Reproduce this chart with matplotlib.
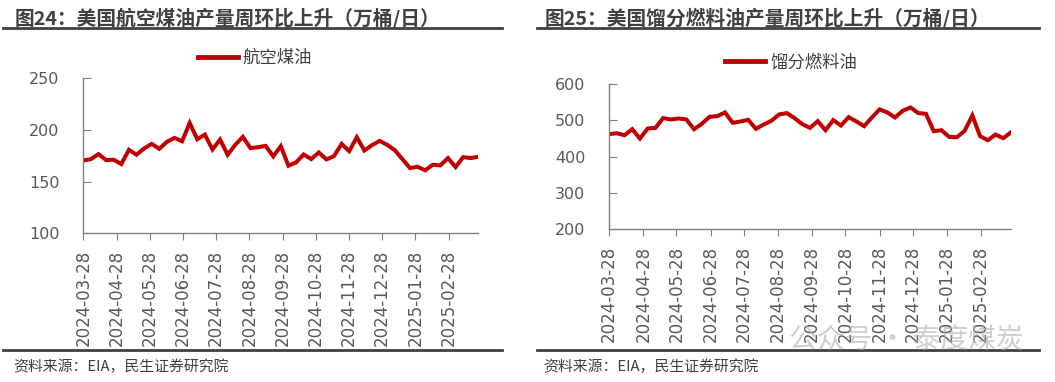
import pandas as pd
import matplotlib
matplotlib.use('Agg')
import matplotlib.pyplot as plt
import matplotlib.dates as mdates
from matplotlib.lines import Line2D

plt.rcParams['font.family'] = ['Noto Sans CJK SC', 'DejaVu Sans']

# weekly dates (53 weeks)
dates = pd.date_range('2024-03-28', periods=53, freq='7D')

jet_fuel = [170.5, 171.8, 176.6, 170.8, 171.2, 167.0, 180.8, 176.0, 182.1, 186.5,
            181.7, 188.5, 192.3, 189.1, 206.7, 191.0, 195.5, 181.1, 190.7, 176.0,
            185.6, 193.3, 182.4, 183.3, 184.6, 174.4, 184.3, 165.4, 168.6, 176.3,
            171.8, 178.2, 171.5, 174.7, 186.5, 179.5, 192.9, 180.1, 185.3, 189.4,
            185.6, 180.4, 171.8, 163.1, 164.4, 160.9, 166.3, 165.7, 172.8, 164.1,
            173.7, 172.8, 174.0]

distillate = [462.0, 464.8, 459.3, 475.9, 450.0, 477.8, 479.6, 506.5, 502.8, 505.6,
              502.8, 475.9, 490.7, 510.2, 512.0, 522.2, 493.5, 497.2, 501.9, 476.9,
              488.9, 499.1, 516.7, 520.4, 506.5, 489.8, 479.6, 498.1, 473.1, 500.9,
              486.1, 509.3, 497.2, 484.3, 508.3, 530.6, 522.2, 508.3, 526.9, 536.1,
              520.4, 518.5, 470.4, 473.1, 454.6, 453.7, 471.3, 513.9, 456.5, 445.4,
              461.1, 450.9, 467.6]

tick_dates = pd.to_datetime(['2024-03-28', '2024-04-28', '2024-05-28', '2024-06-28',
                             '2024-07-28', '2024-08-28', '2024-09-28', '2024-10-28',
                             '2024-11-28', '2024-12-28', '2025-01-28', '2025-02-28'])

titles = ['图24：美国航空煤油产量周环比上升（万桶/日）',
          '图25：美国馏分燃料油产量周环比上升（万桶/日）']
names = ['航空煤油', '馏分燃料油']
source = '资料来源：EIA，民生证券研究院'

red = '#C00000'
grey = '#595959'
dark = '#404040'

fig = plt.figure(figsize=(10.55, 3.82), dpi=100)

ax1 = fig.add_axes([0.0790, 0.3893, 0.3744, 0.4058])
ax2 = fig.add_axes([0.5773, 0.4005, 0.3810, 0.3788])

panels = [(ax1, jet_fuel, (100, 250), [100, 150, 200, 250]),
          (ax2, distillate, (200, 600), [200, 300, 400, 500, 600])]

for ax, vals, ylim, yticks in panels:
    ax.plot(dates, vals, color=red, linewidth=2.9, solid_joinstyle='miter')
    ax.set_xlim(dates[0], dates[-1])
    ax.set_ylim(*ylim)
    ax.set_yticks(yticks)
    ax.set_xticks(tick_dates)
    ax.xaxis.set_major_formatter(mdates.DateFormatter('%Y-%m-%d'))
    for s in ['top', 'right']:
        ax.spines[s].set_visible(False)
    for s in ['left', 'bottom']:
        ax.spines[s].set_color('#808080')
        ax.spines[s].set_linewidth(1.0)
    ax.tick_params(axis='y', direction='in', length=6, color='#808080',
                   labelsize=11.5, labelcolor=grey, pad=17)
    ax.tick_params(axis='x', direction='out', length=5, color='#808080',
                   labelsize=12, labelcolor=grey, pad=7)
    for lab in ax.get_xticklabels():
        lab.set_rotation(90)
        lab.set_family('DejaVu Sans')
    for lab in ax.get_yticklabels():
        lab.set_family('DejaVu Sans')

# legends
legend_pos = [(0.2417, 0.848), (0.750, 0.837)]
for ax, nm, pos in zip([ax1, ax2], names, legend_pos):
    h = Line2D([], [], color=red, linewidth=3.5)
    ax.legend([h], [nm], loc='center', bbox_to_anchor=pos, bbox_transform=fig.transFigure,
              frameon=False, fontsize=12.5, handlelength=2.3, handletextpad=0.3,
              labelcolor=dark)

# titles, rules and source text
for x0, x1, tx, title in [(0.003, 0.476, 0.014, titles[0]), (0.509, 0.985, 0.516, titles[1])]:
    fig.text(tx, 0.952, title, fontsize=14.2, fontweight='bold', color=dark,
             ha='left', va='center')
    fig.add_artist(Line2D([x0, x1], [0.927, 0.927], color=dark, linewidth=2.0,
                          transform=fig.transFigure))
    fig.add_artist(Line2D([x0, x1], [0.083, 0.083], color=dark, linewidth=2.0,
                          transform=fig.transFigure))
    fig.text(tx - 0.001, 0.041, source, fontsize=10.7, color=dark, ha='left', va='center')

# watermark
fig.text(0.748, 0.108, '公众号 · 泰度煤炭', fontsize=20, color='#b0b0b0', alpha=0.6,
         ha='left', va='center')

fig.savefig('out.png', dpi=100)
